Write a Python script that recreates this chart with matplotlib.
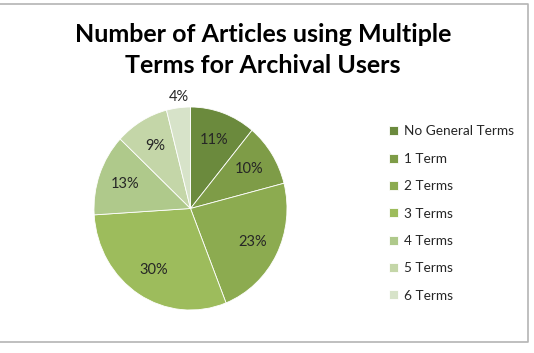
import matplotlib
matplotlib.use('Agg')
import matplotlib.pyplot as plt
from matplotlib.lines import Line2D

categories = ['No General Terms', '1 Term', '2 Terms', '3 Terms',
              '4 Terms', '5 Terms', '6 Terms']
values = [11, 10, 23, 30, 13, 9, 4]
colors = ['#6b8a3d', '#7e9c47', '#8cab50', '#9dbc5c',
          '#afc98b', '#c4d6a8', '#d7e3c9']

plt.rcParams['font.family'] = ['Lato', 'DejaVu Sans']

W, H = 534, 353
fig = plt.figure(figsize=(W / 100, H / 100), dpi=100)

# light grey frame (top, right, bottom) around the chart area
fx = [0, 528 / W, 528 / W, 0]
fy = [1 - 4 / H, 1 - 4 / H, 1 - 342 / H, 1 - 342 / H]
fig.lines.append(Line2D(fx, fy, transform=fig.transFigure,
                        color='#b4b4b4', linewidth=1.2))

fig.text(263 / W, 1 - 50 / H,
         'Number of Articles using Multiple\nTerms for Archival Users',
         ha='center', va='center', fontsize=18, fontweight='bold',
         linespacing=1.45, color='#000000')

ax = fig.add_axes([94 / W, 1 - 310 / H, 193 / W, 203 / H])
wedges, texts, autotexts = ax.pie(values, colors=colors, startangle=90,
                                  counterclock=False, autopct='%d%%',
                                  pctdistance=0.72,
                                  wedgeprops=dict(edgecolor='white', linewidth=0.6),
                                  textprops=dict(fontsize=10.5, color='#262626'))
ax.set_aspect('auto')
ax.set_xlim(-1, 1)
ax.set_ylim(-1, 1)

# small last slice gets its label outside
autotexts[-1].set_position((-0.12, 1.1))

leg = fig.legend(wedges, categories, loc='upper left',
                 bbox_to_anchor=(384 / W, 1 - 120 / H), frameon=False,
                 fontsize=9.8, handlelength=0.65, handleheight=0.65,
                 handletextpad=0.4, labelspacing=1.13, borderaxespad=0)
for t in leg.get_texts():
    t.set_color('#262626')

fig.savefig('out.png', dpi=100)
